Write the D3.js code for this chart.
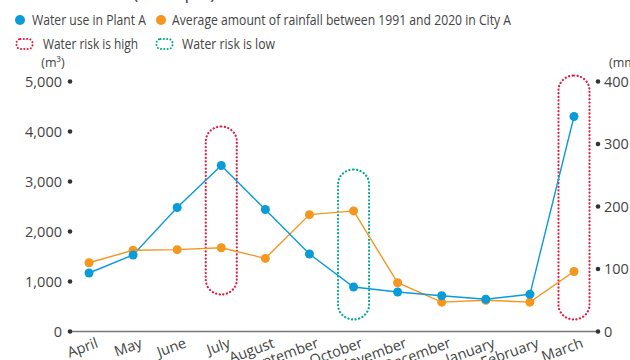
<!DOCTYPE html>
<html><head><meta charset="utf-8">
<script src="https://cdn.jsdelivr.net/npm/d3@7"></script>
<style>
html,body{margin:0;padding:0;background:#fff;overflow:hidden}
svg{display:block;font-family:"Open Sans","Noto Sans",sans-serif}
</style></head>
<body><svg id="c" width="630" height="360"></svg>
<script>
const months = ["April","May","June","July","August","September","October","November","December","January","February","March"];
const waterUse = [1170,1530,2480,3320,2440,1550,890,790,716,644,744,4300];
const rainfall = [110,130,131,134,117,187,193,78,47,50,47,96];
const leftTicks = [0,1000,2000,3000,4000,5000];
const rightTicks = [0,100,200,300,400];
const riskHigh = [{month:"July",top:4100,bottom:740},{month:"March",top:5120,bottom:240}];
const riskLow = [{month:"October",top:3240,bottom:240}];
const legendSeries = ["Water use in Plant A","Average amount of rainfall between 1991 and 2020 in City A"];
const legendRisk = ["Water risk is high","Water risk is low"];

const BLUE="#0a9bd9", ORANGE="#f5961e", RED="#e6193c", GREEN="#00a98f", TXT="#444";
const svg = d3.select("#c");

const x = d3.scalePoint().domain(months).range([89,574]);
const yL = d3.scaleLinear().domain([0,5000]).range([331.5,81.5]);
const yR = d3.scaleLinear().domain([0,400]).range([331.5,81.5]);

// cut-off title
svg.append("text").attr("x",133).attr("y",-1).attr("text-anchor","end").attr("font-size",18).attr("fill",TXT).text("Water use");
svg.append("text").attr("x",133).attr("y",-1).attr("font-size",18).attr("fill",TXT).text("(example)");

// baseline
svg.append("line").attr("x1",70).attr("x2",598).attr("y1",yL(0)).attr("y2",yL(0)).attr("stroke","#777").attr("stroke-width",1.5);

// left axis
leftTicks.forEach(t=>{
  svg.append("circle").attr("cx",70).attr("cy",yL(t)).attr("r",2.3).attr("fill","#333");
  svg.append("text").attr("x",62).attr("y",yL(t)).attr("dy","0.35em").attr("text-anchor","end").attr("font-size",14.5).attr("fill",TXT).text(d3.format(",")(t));
});
svg.append("text").attr("x",53).attr("y",67).attr("text-anchor","middle").attr("font-size",12.5).attr("fill",TXT).text("(m³)");
// right axis
rightTicks.forEach(t=>{
  svg.append("circle").attr("cx",598).attr("cy",yR(t)).attr("r",2.3).attr("fill","#333");
  svg.append("text").attr("x",604).attr("y",yR(t)).attr("dy","0.35em").attr("font-size",14.5).attr("fill",TXT).text(t);
});
svg.append("text").attr("x",609).attr("y",67).attr("font-size",12.5).attr("fill",TXT).text("(mm)");

// x labels
months.forEach(m=>{
  svg.append("text").attr("transform",`translate(${x(m)+10},${347}) rotate(-20)`).attr("text-anchor","end").attr("font-size",14.5).attr("fill",TXT).text(m);
});

// risk boxes
function box(d,color){
  const w=31, top=yL(d.top), bot=yL(d.bottom);
  svg.append("rect").attr("x",x(d.month)-w/2).attr("y",top).attr("width",w).attr("height",bot-top)
    .attr("rx",w/2).attr("ry",w/2*0.95).attr("fill","none").attr("stroke",color).attr("stroke-width",2.2)
    .attr("stroke-dasharray","0.1 3.5").attr("stroke-linecap","round");
}
riskHigh.forEach(d=>box(d,RED));
riskLow.forEach(d=>box(d,GREEN));

// lines
svg.append("path").datum(rainfall).attr("fill","none").attr("stroke",ORANGE).attr("stroke-width",1.4)
  .attr("d",d3.line().x((d,i)=>x(months[i])).y(d=>yR(d)));
svg.append("path").datum(waterUse).attr("fill","none").attr("stroke",BLUE).attr("stroke-width",1.4)
  .attr("d",d3.line().x((d,i)=>x(months[i])).y(d=>yL(d)));
svg.selectAll(".po").data(rainfall).join("circle").attr("cx",(d,i)=>x(months[i])).attr("cy",d=>yR(d)).attr("r",4.5).attr("fill",ORANGE);
svg.selectAll(".pb").data(waterUse).join("circle").attr("cx",(d,i)=>x(months[i])).attr("cy",d=>yL(d)).attr("r",4.5).attr("fill",BLUE);

// legend
function ltext(x0,y0,s,w){
  svg.append("text").attr("x",x0).attr("y",y0).attr("dy","0.35em").attr("font-size",14).attr("fill",TXT)
    .attr("textLength",w).attr("lengthAdjust","spacingAndGlyphs").text(s);
}
svg.append("circle").attr("cx",20).attr("cy",20).attr("r",5).attr("fill",BLUE);
ltext(32,20,legendSeries[0],114);
svg.append("circle").attr("cx",161).attr("cy",20).attr("r",5).attr("fill",ORANGE);
ltext(172,20,legendSeries[1],339);
function lbox(cx,color){
  svg.append("rect").attr("x",cx-8).attr("y",39).attr("width",16).attr("height",10).attr("rx",4)
   .attr("fill","none").attr("stroke",color).attr("stroke-width",2).attr("stroke-dasharray","0.1 3.2").attr("stroke-linecap","round");
}
lbox(24.5,RED);
ltext(43,44,legendRisk[0],95);
lbox(164.5,GREEN);
ltext(182,44,legendRisk[1],93);
</script></body></html>
